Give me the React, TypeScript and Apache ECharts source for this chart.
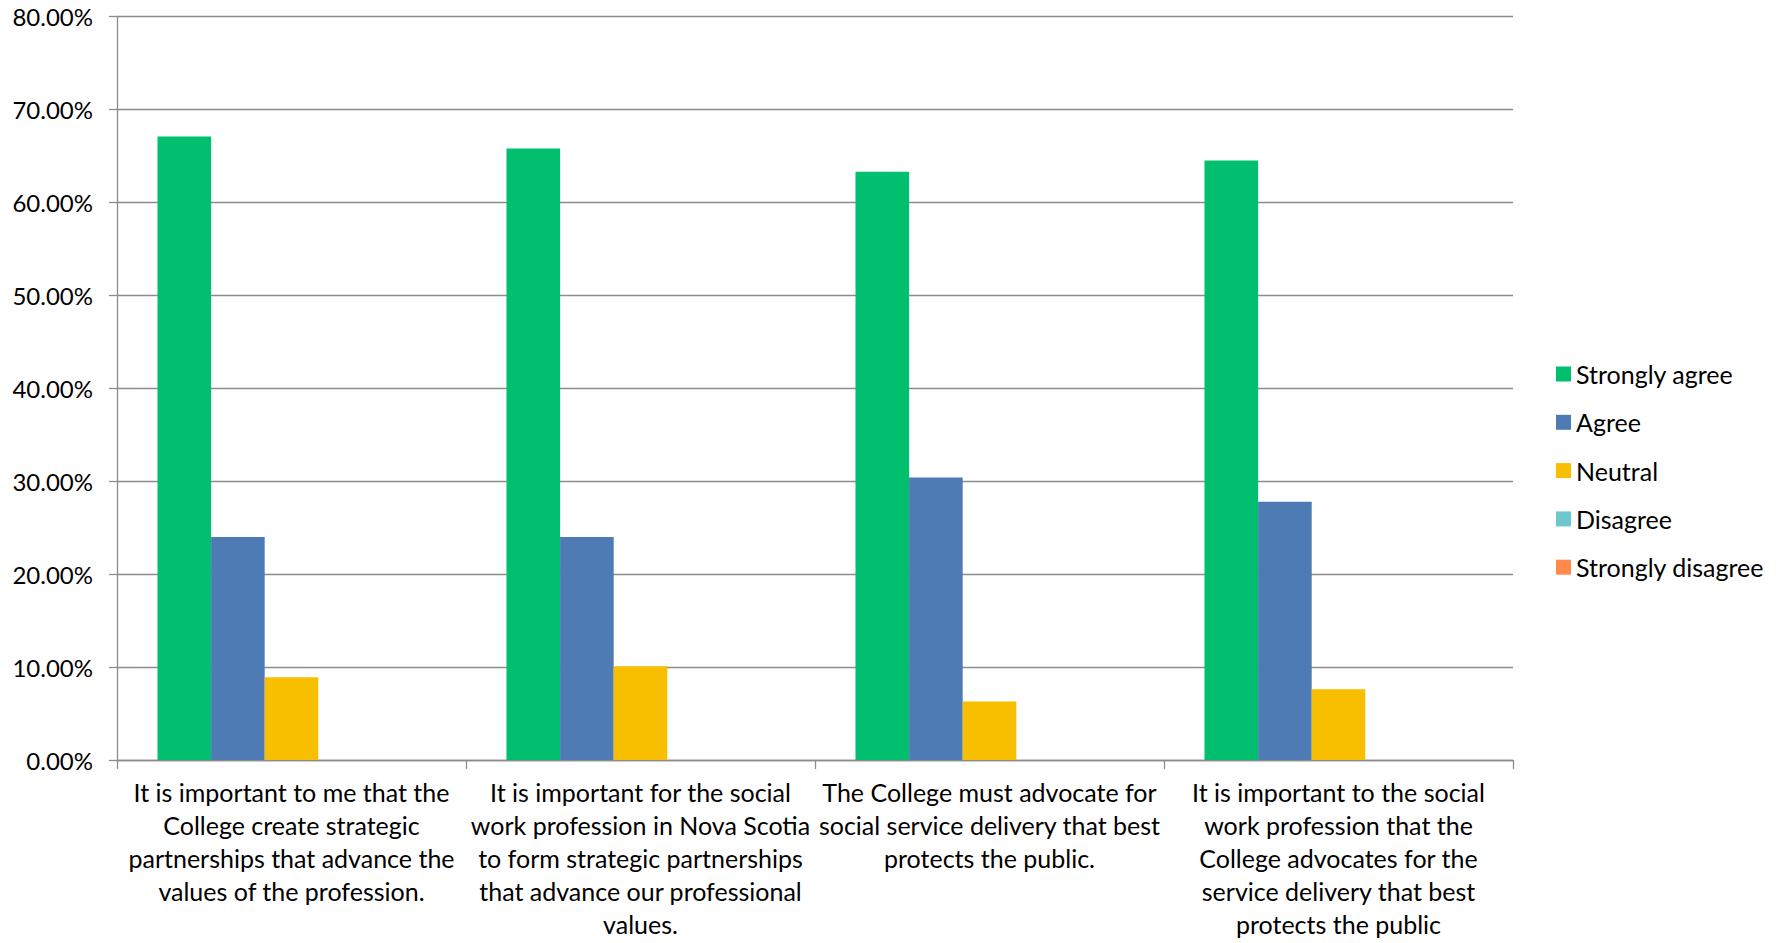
import React, { useEffect, useRef } from "react";
import * as echarts from "echarts";

const categories: string[] = [
  "It is important to me that the\nCollege create strategic\npartnerships that advance the\nvalues of the profession.",
  "It is important for the social\nwork profession in Nova Scotia\nto form strategic partnerships\nthat advance our professional\nvalues.",
  "The College must advocate for\nsocial service delivery that best\nprotects the public.",
  "It is important to the social\nwork profession that the\nCollege advocates for the\nservice delivery that best\nprotects the public",
];

const seriesNames: string[] = ["Strongly agree", "Agree", "Neutral", "Disagree", "Strongly disagree"];
const stronglyAgree: number[] = [67.1, 65.8, 63.3, 64.5];
const agree: number[] = [24.0, 24.0, 30.4, 27.8];
const neutral: number[] = [8.9, 10.1, 6.3, 7.6];
const disagree: number[] = [0, 0, 0, 0];
const stronglyDisagree: number[] = [0, 0, 0, 0];
const seriesColors: string[] = ["#00BF6F", "#4F7BB5", "#F8BF00", "#6CC8CC", "#FF8A4B"];

const FONT = "Lato, 'Liberation Sans', sans-serif";

export default function App() {
  const ref = useRef<HTMLDivElement>(null);
  useEffect(() => {
    if (!ref.current) return;
    const chart = echarts.init(ref.current, undefined, { renderer: "svg" });
    const values = [stronglyAgree, agree, neutral, disagree, stronglyDisagree];
    chart.setOption({
      animation: false,
      backgroundColor: "#ffffff",
      textStyle: { fontFamily: FONT },
      grid: { left: 117, right: 272, top: 16.5, bottom: 183, containLabel: false },
      legend: {
        orient: "vertical",
        left: 1551,
        top: 354,
        itemWidth: 15,
        itemHeight: 15,
        itemGap: 18.3,
        icon: "rect",
        textStyle: { fontFamily: FONT, fontSize: 25, color: "#000", lineHeight: 30 },
        data: seriesNames,
      },
      xAxis: {
        type: "category",
        data: categories,
        axisLine: { show: true, lineStyle: { color: "#8C8C8C", width: 1.3 } },
        axisTick: { show: true, length: 9, lineStyle: { color: "#8C8C8C", width: 1.3 } },
        axisLabel: {
          interval: 0,
          margin: 16,
          fontFamily: FONT,
          fontSize: 25,
          lineHeight: 32.8,
          color: "#000",
          align: "center",
        },
      },
      yAxis: {
        type: "value",
        min: 0,
        max: 80,
        interval: 10,
        axisLine: { show: true, lineStyle: { color: "#8C8C8C", width: 1.3 } },
        axisTick: { show: true, length: 8, lineStyle: { color: "#8C8C8C", width: 1.3 } },
        splitLine: { show: true, lineStyle: { color: "#8C8C8C", width: 1.3 } },
        axisLabel: {
          margin: 24,
          fontFamily: FONT,
          fontSize: 24,
          color: "#000",
          formatter: (v: number) => v.toFixed(2) + "%",
        },
      },
      series: seriesNames.map((name, i) => ({
        name,
        type: "bar",
        data: values[i],
        barGap: "0%",
        barCategoryGap: "23.2%",
        itemStyle: { color: seriesColors[i] },
      })),
    });
    return () => chart.dispose();
  }, []);
  return (
    <div
      ref={ref}
      style={{ position: "fixed", left: 0, top: 0, width: 1785, height: 943, background: "#fff" }}
    />
  );
}
